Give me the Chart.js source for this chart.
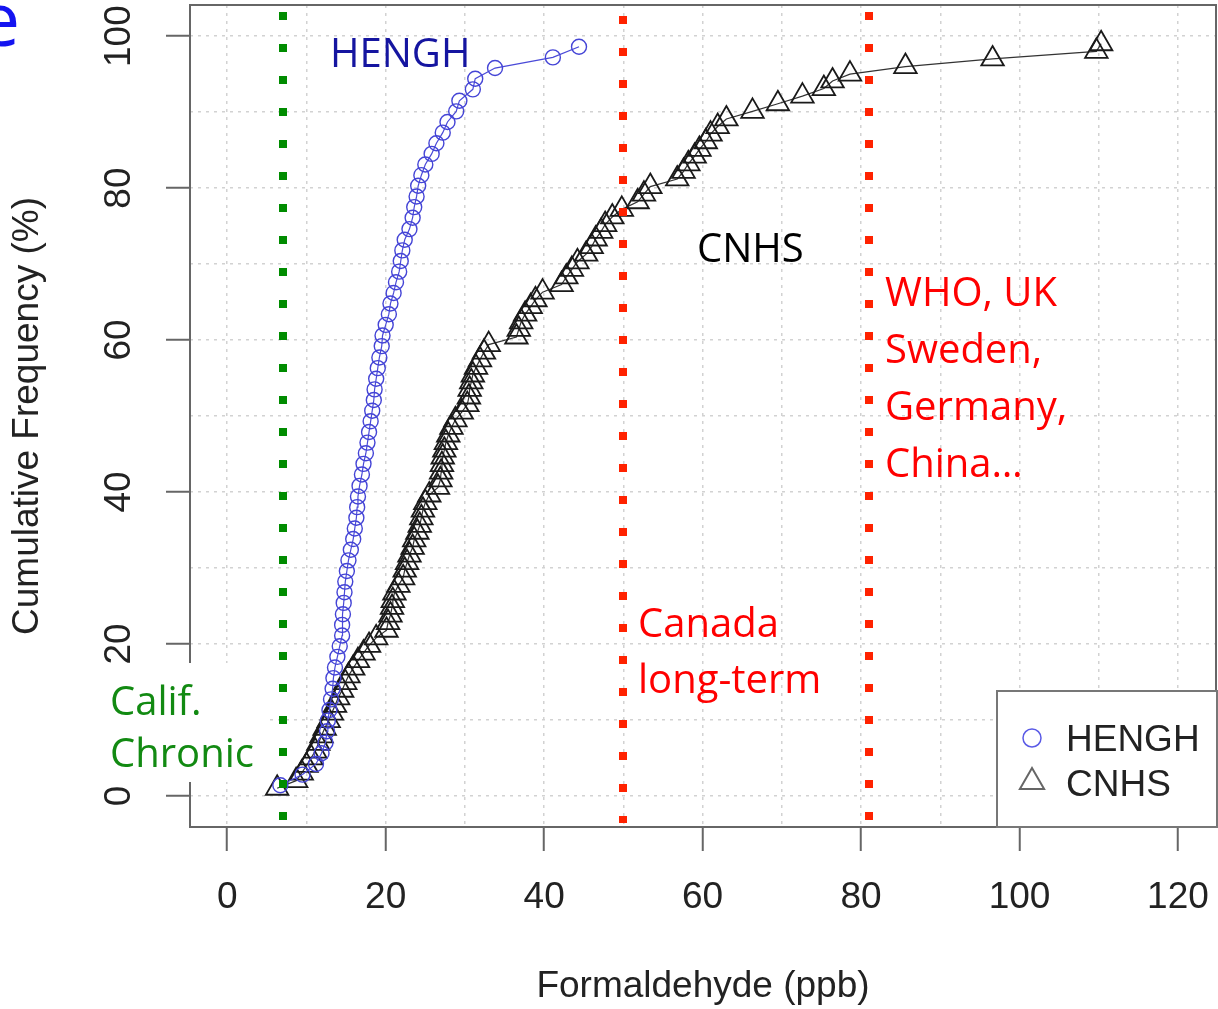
<!DOCTYPE html>
<html>
<head>
<meta charset="utf-8">
<title>Formaldehyde cumulative frequency</title>
<script src="https://cdn.jsdelivr.net/npm/chart.js@4.4.1/dist/chart.umd.min.js"></script>
<style>
  html, body { margin: 0; padding: 0; background: #fff; }
  canvas { display: block; }
</style>
</head>
<body>
<canvas id="chart" width="1218" height="1009"></canvas>
<script>
// HENGH readings (ppb) and their cumulative frequency (%)
const henghPpb = [6.7, 9.5, 11.2, 11.9, 12.4, 12.6, 12.7, 12.9, 13.1, 13.3,
  13.4, 13.6, 13.9, 14.2, 14.5, 14.5, 14.6, 14.7, 14.8, 14.9,
  15.1, 15.3, 15.6, 15.9, 16.1, 16.3, 16.4, 16.5, 16.7, 17.0,
  17.2, 17.5, 17.7, 17.9, 18.1, 18.3, 18.5, 18.6, 18.8, 19.0,
  19.2, 19.5, 19.6, 20.0, 20.4, 20.6, 21.0, 21.3, 21.7, 21.9,
  22.1, 22.4, 23.0, 23.4, 23.6, 23.9, 24.1, 24.5, 25.0, 25.8,
  26.4, 27.2, 27.8, 28.9, 29.3, 31.0, 31.3, 33.8, 41.1, 44.4];
const henghPct = [1.4, 2.8, 4.2, 5.6, 7.0, 8.5, 9.9, 11.3, 12.7, 14.1,
  15.5, 16.9, 18.3, 19.7, 21.1, 22.5, 23.9, 25.4, 26.8, 28.2,
  29.6, 31.0, 32.4, 33.8, 35.2, 36.6, 38.0, 39.4, 40.8, 42.3,
  43.7, 45.1, 46.5, 47.9, 49.3, 50.7, 52.1, 53.5, 54.9, 56.3,
  57.7, 59.2, 60.6, 62.0, 63.4, 64.8, 66.2, 67.6, 69.0, 70.4,
  71.8, 73.2, 74.6, 76.1, 77.5, 78.9, 80.3, 81.7, 83.1, 84.5,
  85.9, 87.3, 88.7, 90.1, 91.5, 93.0, 94.4, 95.8, 97.2, 98.6];

// CNHS readings (ppb) and their cumulative frequency (%)
const cnhsPpb = [6.3, 8.7, 9.4, 10.0, 10.6, 11.1, 11.5, 11.9, 12.3, 12.8,
  13.2, 13.6, 14.0, 14.5, 14.9, 15.3, 15.9, 16.5, 17.2, 17.9,
  18.8, 20.1, 20.3, 20.6, 20.8, 20.9, 21.1, 21.6, 22.2, 22.4,
  22.7, 23.0, 23.4, 23.6, 24.0, 24.3, 24.5, 24.7, 25.0, 25.5,
  26.6, 26.9, 27.0, 27.1, 27.2, 27.4, 27.6, 27.9, 28.3, 28.8,
  29.6, 30.3, 30.5, 30.6, 30.8, 31.0, 31.4, 31.9, 32.4, 33.0,
  36.5, 36.8, 37.1, 37.6, 38.3, 38.9, 39.8, 42.2, 42.8, 43.5,
  44.2, 45.3, 46.0, 46.5, 47.2, 47.7, 48.6, 49.8, 51.8, 52.6,
  53.4, 56.8, 57.6, 58.2, 59.0, 59.6, 60.4, 61.0, 61.9, 63.0,
  66.3, 69.5, 72.6, 75.3, 76.4, 78.6, 85.6, 96.6, 109.7, 110.3];
const cnhsPct = [1.0, 2.0, 3.0, 4.0, 5.0, 5.9, 6.9, 7.9, 8.9, 9.9,
  10.9, 11.9, 12.9, 13.9, 14.9, 15.8, 16.8, 17.8, 18.8, 19.8,
  20.8, 21.8, 22.8, 23.8, 24.8, 25.7, 26.7, 27.7, 28.7, 29.7,
  30.7, 31.7, 32.7, 33.7, 34.7, 35.6, 36.6, 37.6, 38.6, 39.6,
  40.6, 41.6, 42.6, 43.6, 44.6, 45.5, 46.5, 47.5, 48.5, 49.5,
  50.5, 51.5, 52.5, 53.5, 54.5, 55.4, 56.4, 57.4, 58.4, 59.4,
  60.4, 61.4, 62.4, 63.4, 64.4, 65.3, 66.3, 67.3, 68.3, 69.3,
  70.3, 71.3, 72.3, 73.3, 74.3, 75.2, 76.2, 77.2, 78.2, 79.2,
  80.2, 81.2, 82.2, 83.2, 84.2, 85.1, 86.1, 87.1, 88.1, 89.1,
  90.1, 91.1, 92.1, 93.1, 94.1, 95.0, 96.0, 97.0, 98.0, 99.0];

// guideline values (ppb): Calif. chronic, Canada long-term, WHO etc.
const guidePpb = [7, 50, 81];
const guideColors = ['#008c00', '#ff2200', '#ff2200'];
const guideStart = [12, 16, 12]; // top of the first dot

// axis ticks: grid every 10, labels every 20
const xTickLabels = [0, 20, 40, 60, 80, 100, 120];
const yTickLabels = [0, 20, 40, 60, 80, 100];

const tickFont = { family: 'Liberation Sans, Arial, sans-serif', size: 37 };
const noteFont = '40px "Open Sans", "Noto Sans", sans-serif';

function makePoints(xs, ys) {
    return xs.map((x, i) => ({ x: x, y: ys[i] }));
}

// dotted guideline columns, drawn on top of the points
const guidePlugin = {
    id: 'guides',
    afterDatasetsDraw(chart) {
        const ctx = chart.ctx;
        const area = chart.chartArea;
        const xs = chart.scales.x;
        ctx.save();
        ctx.lineWidth = 8;
        ctx.lineCap = 'butt';
        ctx.setLineDash([8, 24]);
        guidePpb.forEach((v, i) => {
            const px = Math.round(xs.getPixelForValue(v));
            ctx.strokeStyle = guideColors[i];
            ctx.beginPath();
            ctx.moveTo(px, guideStart[i]);
            ctx.lineTo(px, area.bottom - 4);
            ctx.stroke();
        });
        ctx.restore();
    }
};

// frame, text notes, legend box
const decoPlugin = {
    id: 'deco',
    afterDraw(chart) {
        const ctx = chart.ctx;
        const a = chart.chartArea;
        ctx.save();

        // plot frame
        ctx.strokeStyle = '#666';
        ctx.lineWidth = 2;
        ctx.strokeRect(a.left, a.top, a.right - a.left, a.bottom - a.top);

        // white box behind "Calif. Chronic" (hides part of the axis)
        ctx.fillStyle = '#fff';
        ctx.fillRect(100, 663, 168, 119);

        ctx.font = noteFont;
        ctx.textAlign = 'left';
        ctx.textBaseline = 'alphabetic';
        const notes = [
            ['HENGH', '#1515a0', 330, 67],
            ['CNHS', '#000000', 697, 262],
            ['WHO, UK', '#ff0000', 885, 306],
            ['Sweden,', '#ff0000', 885, 363],
            ['Germany,', '#ff0000', 885, 420],
            ['China\u2026', '#ff0000', 885, 477],
            ['Canada', '#ff0000', 638, 637],
            ['long-term', '#ff0000', 638, 693],
            ['Calif.', '#128a12', 110, 715],
            ['Chronic', '#128a12', 110, 767]
        ];
        notes.forEach(n => {
            ctx.fillStyle = n[1];
            ctx.fillText(n[0], n[2], n[3]);
        });

        // legend box
        ctx.fillStyle = '#fff';
        ctx.fillRect(997, 691, 220, 136);
        ctx.strokeStyle = '#777';
        ctx.lineWidth = 2;
        ctx.strokeRect(997, 691, 220, 136);

        ctx.strokeStyle = '#5a5ae6';
        ctx.lineWidth = 1.5;
        ctx.beginPath();
        ctx.arc(1032, 738, 9, 0, Math.PI * 2);
        ctx.stroke();

        const r = 14;
        ctx.strokeStyle = '#666';
        ctx.lineWidth = 2;
        ctx.beginPath();
        ctx.moveTo(1032, 782 - r);
        ctx.lineTo(1032 + r * 0.866, 782 + r * 0.5);
        ctx.lineTo(1032 - r * 0.866, 782 + r * 0.5);
        ctx.closePath();
        ctx.stroke();

        ctx.fillStyle = '#222';
        ctx.font = '37px "Liberation Sans", Arial, sans-serif';
        ctx.fillText('HENGH', 1066, 751);
        ctx.fillText('CNHS', 1066, 796);

        // clipped slide title letter in the corner
        ctx.fillStyle = '#1414f0';
        ctx.font = '75px "Open Sans", sans-serif';
        ctx.textAlign = 'right';
        ctx.fillText('e', 20, 46);

        ctx.restore();
    }
};

const gridColor = '#d2d2d2';
const tickMarkColor = c => (c.tick && c.tick.value % 20 === 0) ? '#666' : 'rgba(0,0,0,0)';

const ctx = document.getElementById('chart').getContext('2d');
new Chart(ctx, {
    type: 'scatter',
    data: {
        datasets: [
            {
                label: 'HENGH',
                data: makePoints(henghPpb, henghPct),
                showLine: true,
                borderColor: '#4a4ad8',
                borderWidth: 1.2,
                pointStyle: 'circle',
                pointRadius: 7.5,
                pointBorderWidth: 1.4,
                pointBorderColor: '#4444d6',
                pointBackgroundColor: 'rgba(0,0,0,0)'
            },
            {
                label: 'CNHS',
                data: makePoints(cnhsPpb, cnhsPct),
                showLine: true,
                borderColor: '#333',
                borderWidth: 1.2,
                pointStyle: 'triangle',
                pointRadius: 13,
                pointBorderWidth: 1.8,
                pointBorderColor: '#1a1a1a',
                pointBackgroundColor: 'rgba(0,0,0,0)'
            }
        ]
    },
    options: {
        responsive: false,
        animation: false,
        devicePixelRatio: 1,
        layout: { autoPadding: false, padding: { top: 5, right: 2, left: 0, bottom: 0 } },
        plugins: { legend: { display: false }, tooltip: { enabled: false } },
        scales: {
            x: {
                type: 'linear',
                min: -4.7,
                max: 124.8,
                afterFit: s => { s.height = 182; s.paddingLeft = 0; s.paddingRight = 0; },
                ticks: {
                    stepSize: 10,
                    includeBounds: false,
                    autoSkip: false,
                    maxRotation: 0,
                    padding: 25,
                    font: tickFont,
                    color: '#222',
                    callback: v => xTickLabels.includes(v) ? String(v) : ''
                },
                grid: { color: gridColor, lineWidth: 1.5, tickLength: 24, tickWidth: 2, tickColor: tickMarkColor },
                border: { display: false, dash: [3, 5] },
                title: { display: true, text: 'Formaldehyde (ppb)', font: tickFont, color: '#222', padding: 0 }
            },
            y: {
                min: -4.1,
                max: 104.1,
                afterFit: s => { s.width = 190; s.paddingTop = 0; s.paddingBottom = 0; },
                ticks: {
                    stepSize: 10,
                    includeBounds: false,
                    autoSkip: false,
                    minRotation: 90,
                    maxRotation: 90,
                    crossAlign: 'center',
                    padding: 15,
                    font: tickFont,
                    color: '#222',
                    callback: v => yTickLabels.includes(v) ? String(v) : ''
                },
                grid: { color: gridColor, lineWidth: 1.5, tickLength: 24, tickWidth: 2, tickColor: tickMarkColor },
                border: { display: false, dash: [3, 5] },
                title: { display: true, text: 'Cumulative Frequency (%)', font: tickFont, color: '#222', padding: { top: 6, bottom: 0 } }
            }
        }
    },
    plugins: [guidePlugin, decoPlugin]
});
</script>
</body>
</html>
